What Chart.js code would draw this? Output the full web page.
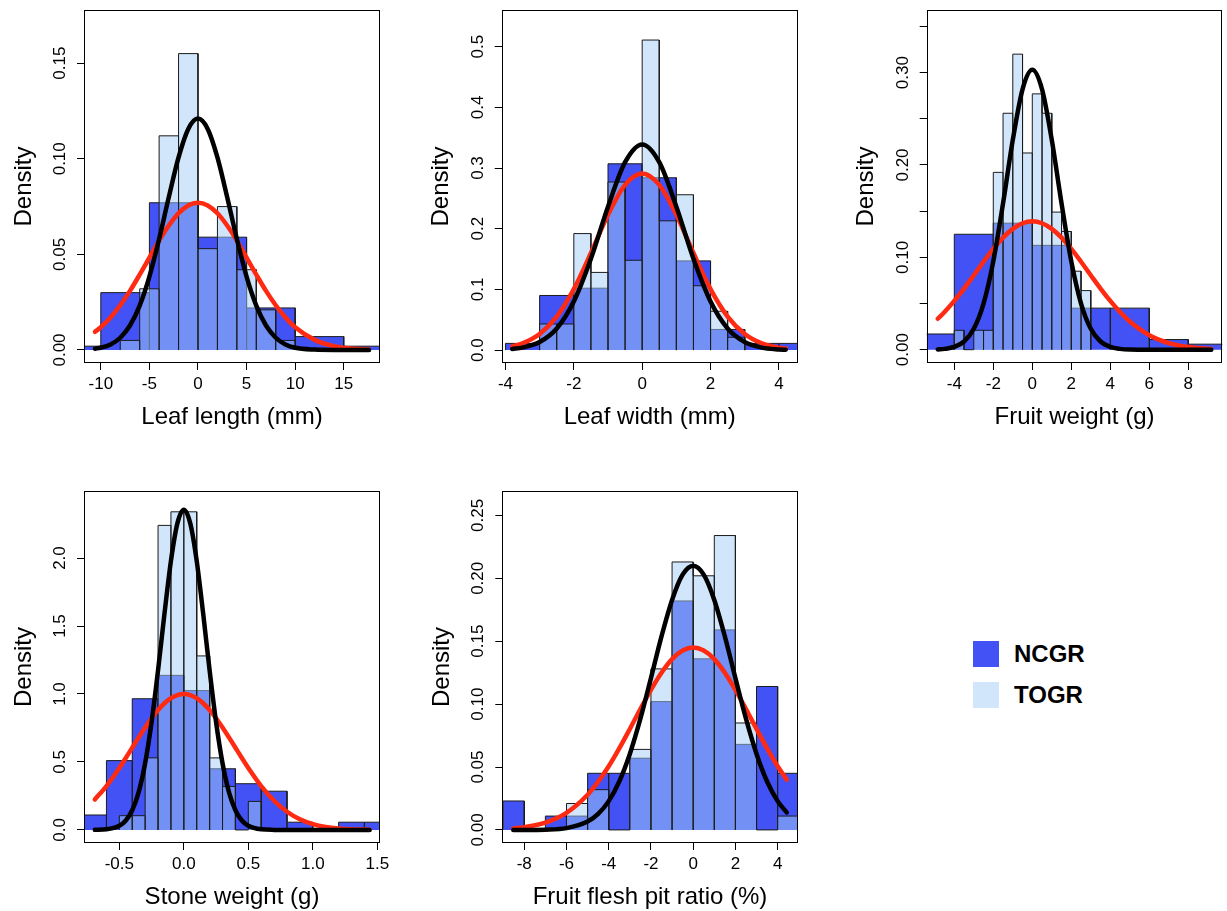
<!DOCTYPE html>
<html>
<head>
<meta charset="utf-8">
<title>Trait distributions NCGR / TOGR</title>
<script src="https://cdn.jsdelivr.net/npm/chart.js@4.4.1/dist/chart.umd.min.js"></script>
<style>
  html, body { margin: 0; padding: 0; background: #fff; overflow: hidden; }
  body { width: 1227px; height: 911px; position: relative; font-family: "Liberation Sans", Arial, sans-serif; }
  .panel { position: absolute; }
  .legend { position: absolute; left: 973px; top: 641px; }
  .key { display: flex; align-items: center; height: 26px; margin-bottom: 15px; font-size: 24px; font-weight: bold; color: #000; }
  .key .swatch { width: 26px; height: 26px; margin-right: 15px; }
</style>
</head>
<body>
<div class="panel" style="left:0px;top:0px;width:400px;height:450px"><canvas id="leafLength"></canvas></div>
<div class="panel" style="left:400px;top:0px;width:410px;height:450px"><canvas id="leafWidth"></canvas></div>
<div class="panel" style="left:810px;top:0px;width:417px;height:450px"><canvas id="fruitWeight"></canvas></div>
<div class="panel" style="left:0px;top:460px;width:400px;height:470px"><canvas id="stoneWeight"></canvas></div>
<div class="panel" style="left:400px;top:460px;width:410px;height:470px"><canvas id="fleshPitRatio"></canvas></div>

<div class="legend">
  <div class="key"><span class="swatch" style="background:rgb(66,82,245)"></span>NCGR</div>
  <div class="key"><span class="swatch" style="background:rgb(209,230,250)"></span>TOGR</div>
</div>

<script>
// ---- Leaf length (mm)
var leafLengthNcgrBreaks = [-15, -10, -5, 0, 5, 10, 15, 20]
var leafLengthNcgrDensity = [0.002, 0.030, 0.077, 0.059, 0.022, 0.007, 0.002]
var leafLengthTogrBreaks = [-8, -6, -4, -2, 0, 2, 4, 6, 8, 10]
var leafLengthTogrDensity = [0.005, 0.032, 0.112, 0.155, 0.053, 0.075, 0.042, 0.021, 0.005]
var leafLengthCurveX = [-10.6, -10, -9, -8, -7, -6, -5, -4, -3, -2, -1, 0, 1, 2, 3, 4, 5, 6, 7, 8, 9, 10, 12, 14, 16, 17.6]
var leafLengthNcgrFit = [0.0095, 0.0119, 0.0170, 0.0234, 0.0309, 0.0394, 0.0483, 0.0572, 0.0651, 0.0715, 0.0756, 0.0770, 0.0756, 0.0715, 0.0651, 0.0572, 0.0483, 0.0394, 0.0309, 0.0234, 0.0170, 0.0119, 0.0053, 0.0020, 0.0007, 0.0002]
var leafLengthTogrFit = [0.0007, 0.0012, 0.0029, 0.0064, 0.0128, 0.0232, 0.0384, 0.0580, 0.0800, 0.1007, 0.1156, 0.1210, 0.1156, 0.1007, 0.0800, 0.0580, 0.0384, 0.0232, 0.0128, 0.0064, 0.0029, 0.0012, 0.0002, 0, 0, 0]
var leafLengthXTicks = [-10, -5, 0, 5, 10, 15]
var leafLengthXLabels = ["-10", "-5", "0", "5", "10", "15"]
var leafLengthYTicks = [0, 0.05, 0.10, 0.15]
var leafLengthYLabels = ["0.00", "0.05", "0.10", "0.15"]

// ---- Leaf width (mm)
var leafWidthNcgrBreaks = [-4, -3, -2, -1, 0, 1, 2, 3, 4, 5]
var leafWidthNcgrDensity = [0.011, 0.090, 0.102, 0.307, 0.284, 0.147, 0.034, 0.011, 0.011]
var leafWidthTogrBreaks = [-3, -2.5, -2, -1.5, -1, -0.5, 0, 0.5, 1, 1.5, 2, 2.5, 3]
var leafWidthTogrDensity = [0.043, 0.043, 0.192, 0.128, 0.277, 0.148, 0.511, 0.213, 0.256, 0.106, 0.064, 0.021]
var leafWidthCurveX = [-3.8, -3.5, -3, -2.5, -2, -1.5, -1, -0.5, 0, 0.5, 1, 1.5, 2, 2.5, 3, 3.5, 4, 4.2]
var leafWidthNcgrFit = [0.0062, 0.0112, 0.0266, 0.0552, 0.1004, 0.1599, 0.2230, 0.2723, 0.2910, 0.2723, 0.2230, 0.1599, 0.1004, 0.0552, 0.0266, 0.0112, 0.0041, 0.0027]
var leafWidthTogrFit = [0.0018, 0.0041, 0.0132, 0.0355, 0.0800, 0.1505, 0.2363, 0.3097, 0.3390, 0.3097, 0.2363, 0.1505, 0.0800, 0.0355, 0.0132, 0.0041, 0.0011, 0.0006]
var leafWidthXTicks = [-4, -2, 0, 2, 4]
var leafWidthXLabels = ["-4", "-2", "0", "2", "4"]
var leafWidthYTicks = [0, 0.1, 0.2, 0.3, 0.4, 0.5]
var leafWidthYLabels = ["0.0", "0.1", "0.2", "0.3", "0.4", "0.5"]

// ---- Fruit weight (g)
var fruitWeightNcgrBreaks = [-6, -4, -2, 0, 2, 4, 6, 8, 10]
var fruitWeightNcgrDensity = [0.017, 0.125, 0.137, 0.113, 0.045, 0.045, 0.011, 0.006]
var fruitWeightTogrBreaks = [-4, -3.5, -3, -2.5, -2, -1.5, -1, -0.5, 0, 0.5, 1, 1.5, 2, 2.5, 3]
var fruitWeightTogrDensity = [0.021, 0, 0.021, 0.021, 0.192, 0.256, 0.320, 0.213, 0.277, 0.256, 0.149, 0.128, 0.085, 0.064]
var fruitWeightCurveX = [-4.85, -4.5, -4, -3.5, -3, -2.5, -2, -1.5, -1, -0.5, 0, 0.5, 1, 1.5, 2, 2.5, 3, 3.5, 4, 4.5, 5, 6, 7, 8, 9.18]
var fruitWeightNcgrFit = [0.0335, 0.0408, 0.0528, 0.0662, 0.0806, 0.0952, 0.1091, 0.1213, 0.1308, 0.1369, 0.1390, 0.1369, 0.1308, 0.1213, 0.1091, 0.0952, 0.0806, 0.0662, 0.0528, 0.0408, 0.0306, 0.0157, 0.0072, 0.0029, 0.0008]
var fruitWeightTogrFit = [0.0003, 0.0009, 0.0030, 0.0089, 0.0226, 0.0500, 0.0957, 0.1584, 0.2271, 0.2819, 0.3030, 0.2819, 0.2271, 0.1584, 0.0957, 0.0500, 0.0226, 0.0089, 0.0030, 0.0009, 0.0002, 0, 0, 0, 0]
var fruitWeightXTicks = [-4, -2, 0, 2, 4, 6, 8]
var fruitWeightXLabels = ["-4", "-2", "0", "2", "4", "6", "8"]
var fruitWeightYTicks = [0, 0.05, 0.10, 0.15, 0.20, 0.25, 0.30, 0.35]
var fruitWeightYLabels = ["0.00", "", "0.10", "", "0.20", "", "0.30", ""]

// ---- Stone weight (g)
var stoneWeightNcgrBreaks = [-0.8, -0.6, -0.4, -0.2, 0, 0.2, 0.4, 0.6, 0.8, 1.0, 1.2, 1.4, 1.6]
var stoneWeightNcgrDensity = [0.110, 0.510, 0.965, 1.137, 1.025, 0.450, 0.340, 0.285, 0.057, 0, 0.057, 0.057]
var stoneWeightTogrBreaks = [-0.5, -0.4, -0.3, -0.2, -0.1, 0, 0.1, 0.2, 0.3, 0.4, 0.5, 0.6]
var stoneWeightTogrDensity = [0.105, 0.105, 0.530, 2.240, 2.340, 2.340, 1.280, 0.530, 0.320, 0, 0.210]
var stoneWeightCurveX = [-0.69, -0.6, -0.5, -0.45, -0.4, -0.35, -0.3, -0.25, -0.2, -0.15, -0.1, -0.05, 0, 0.05, 0.1, 0.15, 0.2, 0.25, 0.3, 0.35, 0.4, 0.45, 0.5, 0.6, 0.7, 0.8, 0.9, 1.0, 1.1, 1.2, 1.3, 1.44]
var stoneWeightNcgrFit = [0.2242, 0.3228, 0.4560, 0.5294, 0.6050, 0.6806, 0.7538, 0.8218, 0.8819, 0.9318, 0.9691, 0.9922, 1.0, 0.9922, 0.9691, 0.9318, 0.8819, 0.8218, 0.7538, 0.6806, 0.6050, 0.5294, 0.4560, 0.3228, 0.2146, 0.1340, 0.0786, 0.0432, 0.0224, 0.0109, 0.0050, 0.0015]
var stoneWeightTogrFit = [0.0006, 0.0044, 0.0302, 0.0692, 0.1451, 0.2786, 0.4908, 0.7927, 1.1730, 1.5913, 1.9784, 2.2546, 2.3550, 2.2546, 1.9784, 1.5913, 1.1730, 0.7927, 0.4908, 0.2786, 0.1451, 0.0692, 0.0302, 0.0044, 0.0005, 0, 0, 0, 0, 0, 0, 0]
var stoneWeightXTicks = [-0.5, 0, 0.5, 1.0, 1.5]
var stoneWeightXLabels = ["-0.5", "0.0", "0.5", "1.0", "1.5"]
var stoneWeightYTicks = [0, 0.5, 1.0, 1.5, 2.0]
var stoneWeightYLabels = ["0.0", "0.5", "1.0", "1.5", "2.0"]

// ---- Fruit flesh pit ratio (%)
var fleshPitNcgrBreaks = [-9, -8, -7, -6, -5, -4, -3, -2, -1, 0, 1, 2, 3, 4, 5]
var fleshPitNcgrDensity = [0.023, 0, 0.011, 0.011, 0.045, 0.045, 0.057, 0.102, 0.182, 0.136, 0.159, 0.068, 0.114, 0.045]
var fleshPitTogrBreaks = [-6, -5, -4, -3, -2, -1, 0, 1, 2, 3, 4, 5]
var fleshPitTogrDensity = [0.021, 0.032, 0, 0.064, 0.128, 0.213, 0.202, 0.234, 0.085, 0, 0.011]
var fleshPitCurveX = [-8.52, -8, -7, -6, -5, -4.5, -4, -3.5, -3, -2.5, -2, -1.5, -1, -0.5, 0, 0.5, 1, 1.5, 2, 2.5, 3, 3.5, 4, 4.43]
var fleshPitNcgrFit = [0.0012, 0.0022, 0.0058, 0.0136, 0.0280, 0.0383, 0.0506, 0.0648, 0.0802, 0.0961, 0.1114, 0.1250, 0.1358, 0.1426, 0.1450, 0.1426, 0.1358, 0.1250, 0.1114, 0.0961, 0.0802, 0.0648, 0.0506, 0.0399]
var fleshPitTogrFit = [0, 0, 0.0002, 0.0014, 0.0066, 0.0127, 0.0229, 0.0385, 0.0604, 0.0884, 0.1207, 0.1538, 0.1828, 0.2029, 0.2100, 0.2029, 0.1828, 0.1538, 0.1207, 0.0884, 0.0604, 0.0385, 0.0229, 0.0139]
var fleshPitXTicks = [-8, -6, -4, -2, 0, 2, 4]
var fleshPitXLabels = ["-8", "-6", "-4", "-2", "0", "2", "4"]
var fleshPitYTicks = [0, 0.05, 0.10, 0.15, 0.20, 0.25]
var fleshPitYLabels = ["0.00", "0.05", "0.10", "0.15", "0.20", "0.25"]


var FONT_FAMILY = "'Liberation Sans', Arial, Helvetica, sans-serif"
var NCGR_FILL = "rgb(66,82,245)"
var TOGR_FILL = "rgba(163,205,245,0.5)"
var OUTLINE = "#1c1c1c"

// histogram bins -> closed step outline so each bar gets its own border
function histPoints(breaks, dens) {
    var pts = []
    for (var i = 0; i < dens.length; i++) {
        pts.push({ x: breaks[i], y: 0 })
        pts.push({ x: breaks[i], y: dens[i] })
        pts.push({ x: breaks[i + 1], y: dens[i] })
        pts.push({ x: breaks[i + 1], y: 0 })
    }
    return pts
}

function curvePoints(xs, ys) {
    return xs.map(function (x, i) { return { x: x, y: ys[i] } })
}

// R-style y labels, turned to read bottom to top
var rotatedYLabels = {
    id: "rotatedYLabels",
    afterDraw: function (chart, args, opts) {
        var ctx = chart.ctx
        var area = chart.chartArea
        var yScale = chart.scales.y
        ctx.save()
        ctx.font = "17px " + FONT_FAMILY
        ctx.fillStyle = "#000"
        ctx.textAlign = "center"
        ctx.textBaseline = "middle"
        yScale.ticks.forEach(function (t, i) {
            var label = opts.labels[i]
            if (!label) return
            ctx.save()
            ctx.translate(area.left - 23.5, yScale.getPixelForValue(t.value))
            ctx.rotate(-Math.PI / 2)
            ctx.fillText(label, 0, 0)
            ctx.restore()
        })
        ctx.restore()
    }
}

// frame around the plotting region
var plotBox = {
    id: "plotBox",
    afterDatasetsDraw: function (chart) {
        var ctx = chart.ctx
        var a = chart.chartArea
        var l = Math.round(a.left) + 0.5
        var t = Math.round(a.top) + 0.5
        var r = Math.round(a.right) - 0.5
        var b = Math.round(a.bottom) - 0.5
        ctx.save()
        ctx.strokeStyle = "#000"
        ctx.lineWidth = 1
        ctx.strokeRect(l, t, r - l, b - t)
        ctx.restore()
    }
}

function plotarPainel(canvasId, p) {
    new Chart(document.getElementById(canvasId), {
        type: "line",
        data: {
            datasets: [{
                label: "NCGR",
                data: histPoints(p.ncgrBreaks, p.ncgrDens),
                borderColor: OUTLINE,
                borderWidth: 1,
                backgroundColor: NCGR_FILL,
                fill: "origin",
                pointRadius: 0,
                tension: 0,
                order: 4
            }, {
                label: "TOGR",
                data: histPoints(p.togrBreaks, p.togrDens),
                borderColor: OUTLINE,
                borderWidth: 1,
                backgroundColor: TOGR_FILL,
                fill: "origin",
                pointRadius: 0,
                tension: 0,
                order: 3
            }, {
                label: "NCGR normal",
                data: curvePoints(p.curveX, p.ncgrFit),
                borderColor: "#ff2a12",
                borderWidth: 4.5,
                borderCapStyle: "round",
                fill: false,
                pointRadius: 0,
                cubicInterpolationMode: "monotone",
                order: 2
            }, {
                label: "TOGR normal",
                data: curvePoints(p.curveX, p.togrFit),
                borderColor: "#000",
                borderWidth: 4.5,
                borderCapStyle: "round",
                fill: false,
                pointRadius: 0,
                cubicInterpolationMode: "monotone",
                order: 1
            }]
        },
        options: {
            responsive: true,
            maintainAspectRatio: false,
            animation: false,
            events: [],
            layout: { padding: { left: p.padLeft, top: p.padTop, right: p.padRight, bottom: 0 } },
            plugins: {
                legend: { display: false },
                tooltip: { enabled: false },
                rotatedYLabels: { labels: p.yLabels }
            },
            scales: {
                x: {
                    type: "linear",
                    min: p.xMin,
                    max: p.xMax,
                    afterBuildTicks: function (s) { s.ticks = p.xTicks.map(function (v) { return { value: v } }) },
                    afterFit: function (s) { s.height = 87 },
                    ticks: {
                        font: { family: FONT_FAMILY, size: 17 },
                        color: "#000",
                        padding: 4,
                        maxRotation: 0,
                        autoSkip: false,
                        callback: function (v, i) { return p.xLabels[i] }
                    },
                    grid: { drawOnChartArea: false, drawTicks: true, tickLength: 7, color: "#000", lineWidth: 1 },
                    border: { display: false },
                    title: {
                        display: true,
                        text: p.xTitle,
                        font: { family: FONT_FAMILY, size: 24 },
                        color: "#000",
                        padding: { top: 0, bottom: 18.6 }
                    }
                },
                y: {
                    type: "linear",
                    min: p.yMin,
                    max: p.yMax,
                    afterBuildTicks: function (s) { s.ticks = p.yTicks.map(function (v) { return { value: v } }) },
                    afterFit: function (s) { s.width = 84 },
                    ticks: { display: false },
                    grid: { drawOnChartArea: false, drawTicks: true, tickLength: 7, color: "#000", lineWidth: 1 },
                    border: { display: false },
                    title: {
                        display: true,
                        text: "Density",
                        font: { family: FONT_FAMILY, size: 24 },
                        color: "#000",
                        padding: { top: 9.6, bottom: 0 }
                    }
                }
            }
        },
        plugins: [rotatedYLabels, plotBox]
    })
}

plotarPainel("leafLength", {
    ncgrBreaks: leafLengthNcgrBreaks, ncgrDens: leafLengthNcgrDensity,
    togrBreaks: leafLengthTogrBreaks, togrDens: leafLengthTogrDensity,
    curveX: leafLengthCurveX, ncgrFit: leafLengthNcgrFit, togrFit: leafLengthTogrFit,
    xTicks: leafLengthXTicks, xLabels: leafLengthXLabels,
    yTicks: leafLengthYTicks, yLabels: leafLengthYLabels,
    xTitle: "Leaf length (mm)",
    xMin: -11.73, xMax: 18.73, yMin: -0.0068, yMax: 0.1778,
    padLeft: 0, padTop: 10, padRight: 20
})

plotarPainel("leafWidth", {
    ncgrBreaks: leafWidthNcgrBreaks, ncgrDens: leafWidthNcgrDensity,
    togrBreaks: leafWidthTogrBreaks, togrDens: leafWidthTogrDensity,
    curveX: leafWidthCurveX, ncgrFit: leafWidthNcgrFit, togrFit: leafWidthTogrFit,
    xTicks: leafWidthXTicks, xLabels: leafWidthXLabels,
    yTicks: leafWidthYTicks, yLabels: leafWidthYLabels,
    xTitle: "Leaf width (mm)",
    xMin: -4.11, xMax: 4.55, yMin: -0.0213, yMax: 0.5605,
    padLeft: 17.7, padTop: 10, padRight: 12.3
})

plotarPainel("fruitWeight", {
    ncgrBreaks: fruitWeightNcgrBreaks, ncgrDens: fruitWeightNcgrDensity,
    togrBreaks: fruitWeightTogrBreaks, togrDens: fruitWeightTogrDensity,
    curveX: fruitWeightCurveX, ncgrFit: fruitWeightNcgrFit, togrFit: fruitWeightTogrFit,
    xTicks: fruitWeightXTicks, xLabels: fruitWeightXLabels,
    yTicks: fruitWeightYTicks, yLabels: fruitWeightYLabels,
    xTitle: "Fruit weight (g)",
    xMin: -5.415, xMax: 9.744, yMin: -0.0144, yMax: 0.3678,
    padLeft: 32.7, padTop: 10, padRight: 4.7
})

plotarPainel("stoneWeight", {
    ncgrBreaks: stoneWeightNcgrBreaks, ncgrDens: stoneWeightNcgrDensity,
    togrBreaks: stoneWeightTogrBreaks, togrDens: stoneWeightTogrDensity,
    curveX: stoneWeightCurveX, ncgrFit: stoneWeightNcgrFit, togrFit: stoneWeightTogrFit,
    xTicks: stoneWeightXTicks, xLabels: stoneWeightXLabels,
    yTicks: stoneWeightYTicks, yLabels: stoneWeightYLabels,
    xTitle: "Stone weight (g)",
    xMin: -0.774, xMax: 1.521, yMin: -0.096, yMax: 2.493,
    padLeft: 0, padTop: 31, padRight: 20
})

plotarPainel("fleshPitRatio", {
    ncgrBreaks: fleshPitNcgrBreaks, ncgrDens: fleshPitNcgrDensity,
    togrBreaks: fleshPitTogrBreaks, togrDens: fleshPitTogrDensity,
    curveX: fleshPitCurveX, ncgrFit: fleshPitNcgrFit, togrFit: fleshPitTogrFit,
    xTicks: fleshPitXTicks, xLabels: fleshPitXLabels,
    yTicks: fleshPitYTicks, yLabels: fleshPitYLabels,
    xTitle: "Fruit flesh pit ratio (%)",
    xMin: -9.04, xMax: 4.95, yMin: -0.0104, yMax: 0.2694,
    padLeft: 18.3, padTop: 31, padRight: 12.3
})
</script>
</body>
</html>
